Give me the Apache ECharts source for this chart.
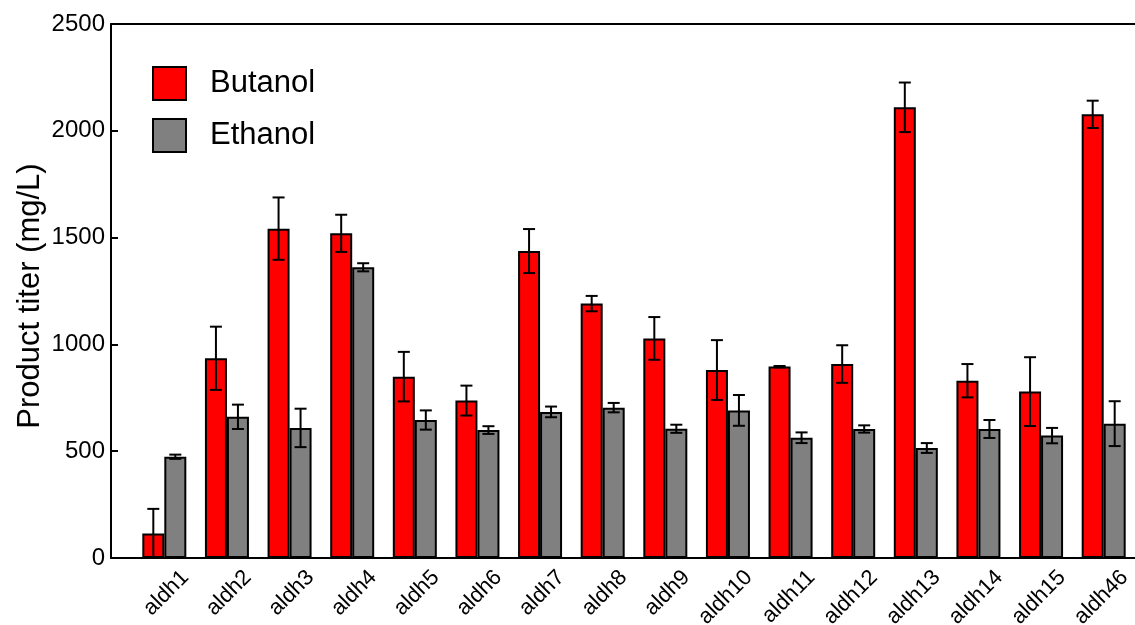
<!DOCTYPE html>
<html>
<head>
<meta charset="utf-8">
<script src="https://cdn.jsdelivr.net/npm/echarts@6/dist/echarts.min.js"></script>
<style>html,body{margin:0;padding:0;background:#fff;}#c{width:1135px;height:625px;}</style>
</head>
<body>
<div id="c"></div>
<script>
const categories = ['aldh1','aldh2','aldh3','aldh4','aldh5','aldh6','aldh7','aldh8','aldh9','aldh10','aldh11','aldh12','aldh13','aldh14','aldh15','aldh46'];
const butanol    = [115, 935, 1542, 1520, 849, 737, 1437, 1191, 1028, 880, 896, 908, 2110, 830, 779, 2077];
const butanolErr = [115, 148, 146, 87, 116, 70, 103, 36, 100, 140, 3, 88, 116, 78, 161, 64];
const ethanol    = [474, 661, 609, 1361, 646, 599, 684, 704, 605, 691, 563, 604, 515, 604, 573, 629];
const ethanolErr = [10, 57, 90, 19, 45, 18, 25, 22, 19, 72, 25, 17, 23, 42, 36, 105];
const yTicks = [0, 500, 1000, 1500, 2000, 2500];

const FONT = "'Liberation Sans', Arial, Helvetica, sans-serif";
const BAR_W = 22;
const chart = echarts.init(document.getElementById('c'), null, {renderer: 'canvas'});

function errRender(offset) {
  return function (params, api) {
    const i = api.value(0), v = api.value(1), e = api.value(2);
    const x = api.coord([i, v])[0] + offset;
    const yt = api.coord([i, v + e])[1];
    const yb = api.coord([i, Math.max(0, v - e)])[1];
    const hw = 6;
    const st = {stroke: '#000', lineWidth: 2};
    return {type: 'group', children: [
      {type: 'line', shape: {x1: x, y1: yt, x2: x, y2: yb}, style: st},
      {type: 'line', shape: {x1: x - hw, y1: yt, x2: x + hw, y2: yt}, style: st},
      {type: 'line', shape: {x1: x - hw, y1: yb, x2: x + hw, y2: yb}, style: st}
    ]};
  };
}

const frameAxis = (pos) => ({
  gridIndex: 0, type: 'value', min: 0, max: 1, position: pos,
  axisLine: {show: true, onZero: false, lineStyle: {color: '#000', width: 2}},
  axisTick: {show: false}, axisLabel: {show: false}, splitLine: {show: false}
});

chart.setOption({
  animation: false,
  backgroundColor: '#fff',
  textStyle: {fontFamily: FONT},
  grid: [
    {left: 111, right: 0, top: 24, bottom: 67, outerBoundsMode: 'none'},
    {left: 133, width: 1002, top: 24, bottom: 67, outerBoundsMode: 'none'},
    {left: 154, width: 1002, top: 24, bottom: 67, outerBoundsMode: 'none'}
  ],
  legend: {
    data: ['Butanol', 'Ethanol'],
    orient: 'vertical', left: 147, top: 61,
    itemWidth: 33, itemHeight: 33, itemGap: 17, icon: 'rect',
    textStyle: {fontSize: 31, color: '#000', fontFamily: FONT, padding: [0, 0, 0, 19]}
  },
  xAxis: [
    frameAxis('bottom'),
    frameAxis('top'),
    {gridIndex: 1, type: 'category', data: categories,
     axisLine: {show: false}, axisTick: {show: false}, axisLabel: {show: false}},
    {gridIndex: 2, type: 'category', data: categories,
     axisLine: {show: false}, axisTick: {show: false},
     axisLabel: {interval: 0, rotate: 45, fontSize: 22, color: '#000', margin: 16, fontFamily: FONT}}
  ],
  yAxis: [
    {gridIndex: 0, type: 'value', min: 0, max: 2500, interval: 500,
     name: 'Product titer (mg/L)', nameLocation: 'middle', nameGap: 65, nameMoveOverlap: false,
     nameTextStyle: {fontSize: 31, color: '#000', fontFamily: FONT, padding: [0, 10, 0, 0]},
     axisLine: {show: true, lineStyle: {color: '#000', width: 2}},
     axisTick: {show: true, inside: true, length: 7, lineStyle: {color: '#000', width: 2}},
     axisLabel: {fontSize: 24, color: '#000', margin: 6, fontFamily: FONT,
                 formatter: (v) => yTicks.includes(v) ? String(v) : ''},
     splitLine: {show: false}},
    {gridIndex: 1, type: 'value', min: 0, max: 2500, show: false, splitLine: {show: false}},
    {gridIndex: 2, type: 'value', min: 0, max: 2500, show: false, splitLine: {show: false}}
  ],
  series: [
    {name: 'Butanol', type: 'bar', xAxisIndex: 2, yAxisIndex: 1, data: butanol,
     barWidth: BAR_W, barGap: '0%',
     itemStyle: {color: '#ff0000', borderColor: '#000', borderWidth: 2}},
    {name: 'Ethanol', type: 'bar', xAxisIndex: 2, yAxisIndex: 1, data: ethanol,
     barWidth: BAR_W, barGap: '0%',
     itemStyle: {color: '#808080', borderColor: '#000', borderWidth: 2}},
    {name: 'errB', type: 'custom', xAxisIndex: 2, yAxisIndex: 1, z: 5,
     data: categories.map((c, i) => [i, butanol[i], butanolErr[i]]),
     renderItem: errRender(-BAR_W / 2)},
    {name: 'errE', type: 'custom', xAxisIndex: 2, yAxisIndex: 1, z: 5,
     data: categories.map((c, i) => [i, ethanol[i], ethanolErr[i]]),
     renderItem: errRender(BAR_W / 2)}
  ]
});
</script>
</body>
</html>
